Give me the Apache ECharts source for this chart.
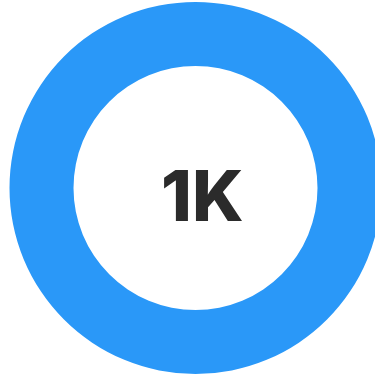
<!DOCTYPE html>
<html>
<head>
<meta charset="utf-8">
<script src="https://cdn.jsdelivr.net/npm/echarts@6/dist/echarts.min.js"></script>
<style>
html,body{margin:0;padding:0;background:#fff;}
#c{width:375px;height:376px;}
</style>
</head>
<body>
<div id="c"></div>
<script>
var categories = ['Total'];
var values = [1000];
var centerLabel = '1K';

var chart = echarts.init(document.getElementById('c'), null, {renderer: 'canvas'});
chart.setOption({
  animation: false,
  backgroundColor: '#ffffff',
  series: [{
    type: 'pie',
    center: [195.5, 188],
    radius: [122, 186],
    silent: true,
    label: {show: false},
    labelLine: {show: false},
    itemStyle: {color: '#2a98f8'},
    data: categories.map(function (c, i) { return {name: c, value: values[i]}; })
  }],
  graphic: [{
    type: 'text',
    left: 161,
    top: 165,
    style: {
      text: centerLabel,
      fontFamily: 'Inter',
      fontWeight: 800,
      fontSize: 70,
      fill: '#2b2b2b'
    }
  }]
});
</script>
</body>
</html>
